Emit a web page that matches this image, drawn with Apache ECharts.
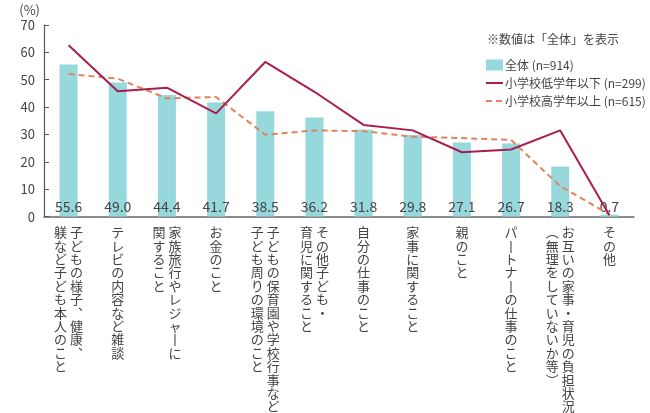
<!DOCTYPE html>
<html>
<head>
<meta charset="utf-8">
<script src="https://cdn.jsdelivr.net/npm/echarts@6/dist/echarts.min.js"></script>
<style>
  html, body { margin: 0; padding: 0; background: #fff; }
  #chart { width: 650px; height: 413px; }
</style>
</head>
<body>
<div id="chart"></div>
<script>
  // カテゴリ（縦書き、\n で列を分ける）
  var categories = [
    '子どもの様子、健康、\n躾など子ども本人のこと',
    'テレビの内容など雑談',
    '家族旅行やレジャーに\n関すること',
    'お金のこと',
    '子どもの保育園や学校行事など\n子ども周りの環境のこと',
    'その他子ども・\n育児に関すること',
    '自分の仕事のこと',
    '家事に関すること',
    '親のこと',
    'パートナーの仕事のこと',
    'お互いの家事・育児の負担状況\n(無理をしていないか等)',
    'その他'
  ];
  var seriesNames = ['全体 (n=914)', '小学校低学年以下 (n=299)', '小学校高学年以上 (n=615)'];
  var totalValues = [55.6, 49.0, 44.4, 41.7, 38.5, 36.2, 31.8, 29.8, 27.1, 26.7, 18.3, 0.7];
  var lowerValues = [62.6, 45.8, 47.1, 37.7, 56.5, 45.6, 33.5, 31.5, 23.5, 24.5, 31.5, 0.5];
  var upperValues = [52.1, 50.4, 43.2, 43.7, 29.9, 31.5, 31.2, 29.2, 28.7, 28.0, 11.1, 0.8];
  var yTicks = { min: 0, max: 70, interval: 10 };

  // 縦書き用の字形置き換え
  var verticalForms = { 'ー': '丨', '(': '︵', ')': '︶', '、': '︑' };

  function verticalLabel(text) {
    var cols = text.split('\n').map(function (c) {
      return Array.from(c).map(function (ch) { return verticalForms[ch] || ch; });
    });
    cols.reverse(); // 右の列が先頭
    var rows = Math.max.apply(null, cols.map(function (c) { return c.length; }));
    var lines = [];
    for (var r = 0; r < rows; r++) {
      var line = '';
      for (var k = 0; k < cols.length; k++) {
        line += '{c|' + (cols[k][r] || '　') + '}';
      }
      lines.push(line);
    }
    return lines.join('\n');
  }

  var chart = echarts.init(document.getElementById('chart'));
  var font = '"Noto Sans CJK JP", "Noto Sans", sans-serif';

  chart.setOption({
    animation: false,
    textStyle: { fontFamily: font },
    title: {
      text: '※数値は「全体」を表示',
      left: 482,
      top: 28,
      textStyle: { fontSize: 12, fontWeight: 'normal', color: '#444', fontFamily: font }
    },
    legend: {
      orient: 'vertical',
      left: 480,
      top: 54,
      itemWidth: 17,
      itemHeight: 11,
      itemGap: 6,
      textStyle: { fontSize: 12, color: '#444', padding: [0, 0, 0, -3] },
      data: [
        { name: seriesNames[0], icon: 'rect' },
        { name: seriesNames[1], itemStyle: { opacity: 0 } },
        { name: seriesNames[2], itemStyle: { opacity: 0 } }
      ]
    },
    grid: { left: 44, right: 16, top: 25, bottom: 192 },
    xAxis: {
      type: 'category',
      data: categories,
      axisLine: { lineStyle: { color: '#666', width: 1.5 } },
      axisTick: { show: false },
      axisLabel: {
        interval: 0,
        margin: 9,
        color: '#444',
        formatter: verticalLabel,
        rich: {
          c: { width: 16, align: 'center', fontSize: 13, lineHeight: 13.4, color: '#444', fontFamily: font }
        }
      }
    },
    yAxis: {
      type: 'value',
      min: yTicks.min,
      max: yTicks.max,
      interval: yTicks.interval,
      name: '(%)',
      nameGap: 8,
      nameTextStyle: { fontSize: 13, color: '#444', align: 'right', padding: [0, 4, 0, 0] },
      axisLine: { show: true, lineStyle: { color: '#555', width: 1.2 } },
      axisTick: { show: true, inside: true, length: 5, lineStyle: { color: '#555' } },
      axisLabel: { fontSize: 13, color: '#444', margin: 9 },
      splitLine: { show: false }
    },
    series: [
      {
        name: seriesNames[0],
        type: 'bar',
        data: totalValues,
        barWidth: 18,
        itemStyle: { color: '#97d8dd' },
        label: {
          show: true,
          position: 'insideBottom',
          distance: 3,
          fontSize: 14,
          color: '#444',
          formatter: function (p) { return p.value.toFixed(1); }
        },
        z: 1
      },
      {
        name: seriesNames[1],
        type: 'line',
        data: lowerValues,
        symbol: 'none',
        lineStyle: { color: '#a81d52', width: 2 },
        itemStyle: { color: '#a81d52' },
        z: 3
      },
      {
        name: seriesNames[2],
        type: 'line',
        data: upperValues,
        symbol: 'none',
        lineStyle: { color: '#e0825e', width: 2, type: [6, 4] },
        itemStyle: { color: '#e0825e' },
        z: 2
      }
    ]
  });
</script>
</body>
</html>
